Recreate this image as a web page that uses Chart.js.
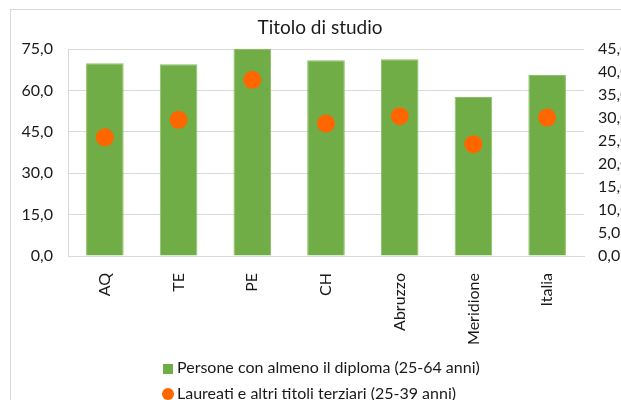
<!DOCTYPE html>
<html>
<head>
<meta charset="utf-8">
<script src="https://cdn.jsdelivr.net/npm/chart.js@4"></script>
<style>
  body { margin: 0; background: #fff; overflow: hidden; width: 621px; height: 400px; position: relative; }
  #frame { position: absolute; left: 10px; top: 9px; width: 700px; height: 500px; border: 1px solid #d9d9d9; }
  #chart { position: absolute; left: 0; top: 0; }
  #legend { position: absolute; left: 163px; top: 354px; font-family: Lato, sans-serif; font-size: 16px; color: #1a1a1a; }
  .item { height: 26px; line-height: 26px; white-space: nowrap; }
  .mark { display: inline-block; width: 10px; height: 10px; margin-right: 4px; vertical-align: -1px; }
</style>
</head>
<body>
<div id="frame"></div>
<canvas id="chart" width="640" height="400"></canvas>
<div id="legend"></div>
<script>
const categories = ['AQ', 'TE', 'PE', 'CH', 'Abruzzo', 'Meridione', 'Italia'];
const diploma = [69.8, 69.5, 75.0, 70.9, 71.3, 57.6, 65.6];
const laureati = [25.8, 29.6, 38.3, 28.8, 30.4, 24.3, 30.1];
const seriesNames = ['Persone con almeno il diploma (25-64 anni)', 'Laureati e altri titoli terziari (25-39 anni)'];

const green = '#70AD47';
const orange = '#FF6600';
const gridColor = '#d9d9d9';
const textColor = '#1a1a1a';
const fontFamily = 'Lato, sans-serif';

// formato italiano con virgola
function fmt(v) {
    return v.toFixed(1).replace('.', ',');
}

const ctx = document.getElementById('chart').getContext('2d');
const chart = new Chart(ctx, {
    type: 'bar',
    data: {
        labels: categories,
        datasets: [{
            label: seriesNames[0],
            data: diploma,
            backgroundColor: green,
            borderColor: '#8cc063',
            borderWidth: 1,
            barPercentage: 0.51,
            categoryPercentage: 1,
            yAxisID: 'y',
            order: 2
        }, {
            type: 'line',
            label: seriesNames[1],
            data: laureati,
            showLine: false,
            pointRadius: 9,
            pointHoverRadius: 9,
            pointBackgroundColor: orange,
            pointBorderColor: orange,
            pointBorderWidth: 0,
            yAxisID: 'y1',
            order: 1
        }]
    },
    options: {
        responsive: false,
        animation: false,
        layout: { padding: 0 },
        plugins: {
            legend: { display: false },
            tooltip: { enabled: false },
            title: {
                display: true,
                text: 'Titolo di studio',
                color: textColor,
                font: { family: fontFamily, size: 19, weight: 'normal' },
                padding: { top: 16.6, bottom: 9.6 }
            }
        },
        scales: {
            x: {
                grid: { display: false },
                border: { display: true, color: gridColor },
                ticks: {
                    color: textColor,
                    font: { family: fontFamily, size: 16 },
                    minRotation: 90,
                    maxRotation: 90,
                    padding: 9,
                    autoSkip: false
                },
                afterFit: (s) => { s.height = 144; }
            },
            y: {
                position: 'left',
                min: 0,
                max: 75,
                grid: { color: gridColor, drawTicks: false },
                border: { display: true, color: gridColor },
                ticks: {
                    stepSize: 15,
                    padding: 15,
                    color: textColor,
                    font: { family: fontFamily, size: 16 },
                    callback: (v) => fmt(v)
                },
                afterFit: (s) => { s.width = 68; }
            },
            y1: {
                position: 'right',
                min: 0,
                max: 45,
                grid: { display: false, drawTicks: false },
                border: { display: false },
                ticks: {
                    stepSize: 5,
                    padding: 14,
                    color: textColor,
                    font: { family: fontFamily, size: 16 },
                    callback: (v) => fmt(v)
                },
                afterFit: (s) => { s.width = 56; }
            }
        }
    }
});

// legenda in colonna, come nell'originale
const legendEl = document.getElementById('legend');
chart.data.datasets.forEach((ds, i) => {
    const row = document.createElement('div');
    row.className = 'item';
    const mark = document.createElement('span');
    mark.className = 'mark';
    mark.style.background = i === 0 ? green : orange;
    if (i === 1) {
        mark.style.width = '12px';
        mark.style.height = '12px';
        mark.style.borderRadius = '50%';
        mark.style.marginLeft = '-1px';
        mark.style.marginRight = '3px';
    }
    row.appendChild(mark);
    row.appendChild(document.createTextNode(ds.label));
    legendEl.appendChild(row);
});
</script>
</body>
</html>
